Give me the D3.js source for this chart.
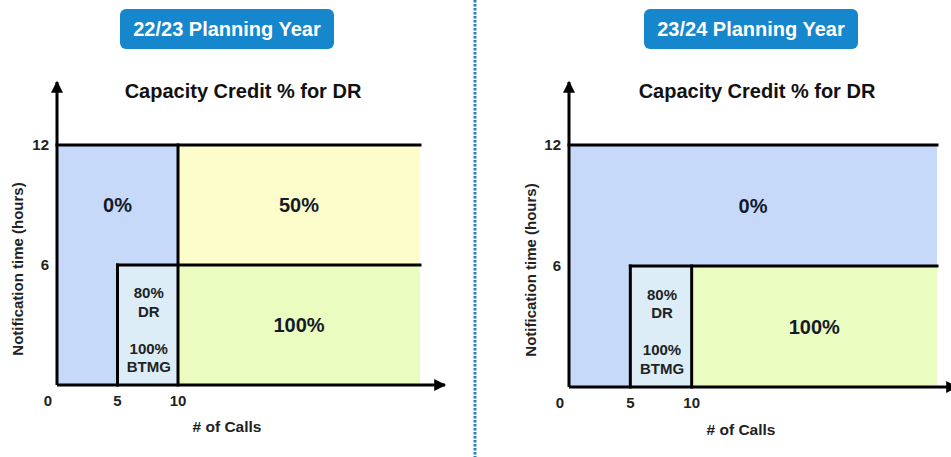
<!DOCTYPE html>
<html>
<head>
<meta charset="utf-8">
<script src="https://cdn.jsdelivr.net/npm/d3@7"></script>
<style>
  body { margin: 0; background: #fff; }
  text { font-family: "Liberation Sans", Arial, sans-serif; font-weight: bold; }
</style>
</head>
<body>
<svg id="chart" width="951" height="457"></svg>
<script>
// planning years shown side by side
const years = ["22/23 Planning Year", "23/24 Planning Year"];
const chartTitle = "Capacity Credit % for DR";
const xTitle = "# of Calls";
const yTitle = "Notification time (hours)";

const xTicks = [0, 5, 10];
const yTicks = [6, 12];
const xMax = 30;
const yMax = 12;

// regions: [x from, x to, y from, y to], fill key, label lines
const regions2223 = [
  { x: [0, 10], y: [6, 12], fill: "blue", label: ["0%"] },
  { x: [0, 5], y: [0, 6], fill: "blue", label: [] },
  { x: [10, 30], y: [6, 12], fill: "yellow", label: ["50%"] },
  { x: [5, 10], y: [0, 6], fill: "cyan", label: ["80%", "DR", "", "100%", "BTMG"] },
  { x: [10, 30], y: [0, 6], fill: "green", label: ["100%"] }
];
const regions2324 = [
  { x: [0, 30], y: [6, 12], fill: "blue", label: ["0%"] },
  { x: [0, 5], y: [0, 6], fill: "blue", label: [] },
  { x: [5, 10], y: [0, 6], fill: "cyan", label: ["80%", "DR", "", "100%", "BTMG"] },
  { x: [10, 30], y: [0, 6], fill: "green", label: ["100%"] }
];

// boundary lines [[x1,y1],[x2,y2]]
const borders2223 = [
  [[0, 12], [30, 12]],
  [[10, 0], [10, 12]],
  [[5, 6], [30, 6]],
  [[5, 0], [5, 6]]
];
const borders2324 = [
  [[0, 12], [30, 12]],
  [[5, 6], [30, 6]],
  [[5, 0], [5, 6]],
  [[10, 0], [10, 6]]
];

const fills = {
  blue: "#c6d9f9",
  yellow: "#fdfdcb",
  green: "#ebfcc0",
  cyan: "#dcedf8"
};

const svg = d3.select("#chart");

const panels = [
  { year: years[0], regions: regions2223, borders: borders2223,
    xr: [57, 420], yr: [385, 145], bannerX: 227, titleX: 243, arrowX: 445, xTitleX: 227, xTitleY: 432, yTitleX: 18 },
  { year: years[1], regions: regions2324, borders: borders2324,
    xr: [569, 937], yr: [387, 145], bannerX: 751, titleX: 757, arrowX: 957, xTitleX: 741, xTitleY: 435, yTitleX: 531 }
];

// arrowhead
svg.append("defs").append("marker")
  .attr("id", "arrow")
  .attr("viewBox", "0 0 10 10")
  .attr("refX", 9).attr("refY", 5)
  .attr("markerWidth", 4.5).attr("markerHeight", 4)
  .attr("markerUnits", "strokeWidth")
  .attr("orient", "auto")
  .append("path")
  .attr("d", "M0,0 L10,5 L0,10 z")
  .attr("fill", "#000");

panels.forEach(p => {
  const x = d3.scaleLinear().domain([0, xMax]).range(p.xr);
  const y = d3.scaleLinear().domain([0, yMax]).range(p.yr);
  const g = svg.append("g");

  // banner
  const bw = 214, bh = 40;
  g.append("rect")
    .attr("x", p.bannerX - bw / 2).attr("y", 9)
    .attr("width", bw).attr("height", bh)
    .attr("rx", 6)
    .attr("fill", "#1686cd");
  g.append("text")
    .attr("x", p.bannerX).attr("y", 36)
    .attr("text-anchor", "middle")
    .attr("fill", "#fff")
    .style("font-size", "20px")
    .text(p.year);

  g.append("text")
    .attr("x", p.titleX).attr("y", 98)
    .attr("text-anchor", "middle")
    .attr("fill", "#111")
    .style("font-size", "20px")
    .text(chartTitle);

  // filled regions
  g.selectAll("rect.region")
    .data(p.regions)
    .enter().append("rect")
    .attr("class", "region")
    .attr("x", d => x(d.x[0]))
    .attr("y", d => y(d.y[1]))
    .attr("width", d => x(d.x[1]) - x(d.x[0]))
    .attr("height", d => y(d.y[0]) - y(d.y[1]))
    .attr("fill", d => fills[d.fill]);

  // borders
  g.selectAll("line.border")
    .data(p.borders)
    .enter().append("line")
    .attr("class", "border")
    .attr("x1", d => x(d[0][0])).attr("y1", d => y(d[0][1]))
    .attr("x2", d => x(d[1][0])).attr("y2", d => y(d[1][1]))
    .attr("stroke", "#000")
    .attr("stroke-width", 3)
    .attr("stroke-linecap", "square");

  // axes with arrows
  g.append("line")
    .attr("x1", x(0)).attr("y1", y(0))
    .attr("x2", x(0)).attr("y2", 82)
    .attr("stroke", "#000").attr("stroke-width", 3)
    .attr("marker-end", "url(#arrow)");
  g.append("line")
    .attr("x1", x(0)).attr("y1", y(0))
    .attr("x2", p.arrowX).attr("y2", y(0))
    .attr("stroke", "#000").attr("stroke-width", 3)
    .attr("marker-end", "url(#arrow)");

  // region labels
  p.regions.forEach(r => {
    if (!r.label.length) return;
    const cx = (x(r.x[0]) + x(r.x[1])) / 2;
    const cy = (y(r.y[0]) + y(r.y[1])) / 2;
    const big = r.label.length === 1;
    const lh = 18.5;
    const start = cy - (r.label.length - 1) / 2 * lh + (big ? 0 : 5);
    r.label.forEach((t, i) => {
      g.append("text")
        .attr("x", cx + (big ? 0 : 1))
        .attr("y", start + i * lh)
        .attr("dy", "0.35em")
        .attr("text-anchor", "middle")
        .attr("fill", big ? "#151a2a" : "#222")
        .style("font-size", big ? "20px" : "15px")
        .text(t);
    });
  });

  // ticks
  g.selectAll("text.xt")
    .data(xTicks)
    .enter().append("text")
    .attr("class", "xt")
    .attr("x", d => d === 0 ? x(d) - 9 : x(d))
    .attr("y", y(0) + 21)
    .attr("text-anchor", "middle")
    .attr("fill", "#222")
    .style("font-size", "15px")
    .text(d => d);
  g.selectAll("text.yt")
    .data(yTicks)
    .enter().append("text")
    .attr("class", "yt")
    .attr("x", x(0) - 8)
    .attr("y", d => y(d))
    .attr("dy", "0.35em")
    .attr("text-anchor", "end")
    .attr("fill", "#222")
    .style("font-size", "15px")
    .text(d => d);

  g.append("text")
    .attr("x", p.xTitleX).attr("y", p.xTitleY)
    .attr("text-anchor", "middle")
    .attr("fill", "#222")
    .style("font-size", "15.5px")
    .text(xTitle);

  g.append("text")
    .attr("transform", `translate(${p.yTitleX},${(y(0) + y(12)) / 2 + 4}) rotate(-90)`)
    .attr("dy", "0.35em")
    .attr("text-anchor", "middle")
    .attr("fill", "#222")
    .style("font-size", "15px")
    .text(yTitle);
});

// dotted divider
svg.append("line")
  .attr("x1", 475).attr("y1", 0)
  .attr("x2", 475).attr("y2", 457)
  .attr("stroke", "#2b80c6")
  .attr("stroke-width", 3)
  .attr("stroke-dasharray", "2.5,1.5");
</script>
</body>
</html>
